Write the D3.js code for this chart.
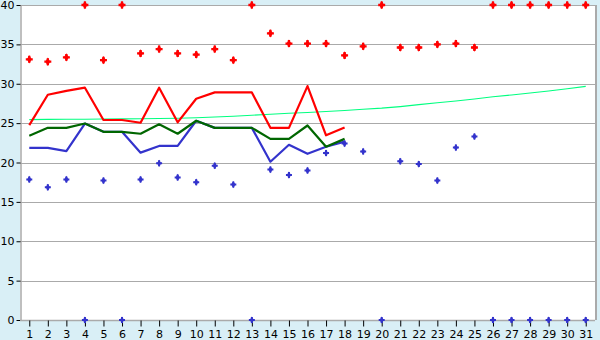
<!DOCTYPE html>
<html>
<meta charset="utf-8">
<style>
  body { margin: 0; background: #d9eff6; }
  svg { display: block; }
  .lbl { font-family: "DejaVu Sans", Verdana, sans-serif; font-size: 11px; fill: #000; }
</style>
<body>
<script src="https://cdn.jsdelivr.net/npm/d3@7"></script>
<div id="chart"></div>
<script>
// Days of the month on the x axis.
var days = d3.range(1, 32);
var yTicks = [0, 5, 10, 15, 20, 25, 30, 35, 40];

// Daily high points (red) and low points (blue); 40 / 0 mean off the scale.
var highs = [33.1, 32.8, 33.35, 40, 33.0, 40, 33.85, 34.4, 33.85, 33.7, 34.4, 33.0, 40, 36.4, 35.1, 35.1, 35.1, 33.6, 34.75, 40,
             34.6, 34.6, 35.0, 35.1, 34.6, 40, 40, 40, 40, 40, 40];
var lows = [17.85, 16.85, 17.85, 0, 17.7, 0, 17.85, 19.9, 18.1, 17.5, 19.6, 17.2, 0, 19.1, 18.4, 19.0, 21.2, 22.4, 21.4, 0,
            20.15, 19.8, 17.7, 21.9, 23.3, 0, 0, 0, 0, 0, 0];

// Running lines, first 18 days only.
var maxLine = [24.75, 28.6, 29.1, 29.5, 25.4, 25.4, 25.05, 29.5, 25.1, 28.1, 28.9, 28.9, 28.9, 24.4, 24.4, 29.7, 23.45, 24.45];
var avgLine = [23.4, 24.4, 24.4, 24.95, 23.9, 23.9, 23.65, 24.85, 23.65, 25.3, 24.4, 24.4, 24.4, 23.0, 23.0, 24.7, 22.0, 23.0];
var minLine = [21.85, 21.85, 21.45, 24.95, 23.9, 23.9, 21.25, 22.1, 22.1, 25.3, 24.4, 24.4, 24.4, 20.1, 22.25, 21.1, 22.0, 22.65];

// Trend curve over the whole month.
var trend = [25.45, 25.47, 25.49, 25.5, 25.52, 25.54, 25.56, 25.58, 25.62, 25.68, 25.78, 25.88, 26.0, 26.13, 26.25, 26.35,
             26.48, 26.6, 26.76, 26.9, 27.1, 27.35, 27.58, 27.8, 28.06, 28.34, 28.58, 28.83, 29.08, 29.36, 29.67];

var width = 600, height = 340;
// note: "top" is taken by window.top, so use m* names
var mLeft = 20, mRight = 595, mTop = 5, mBottom = 320;

var svg = d3.select("#chart").append("svg").attr("width", width).attr("height", height);

var x = d3.scalePoint().domain(days).range([mLeft, mRight]).padding(0.5);
var y = d3.scaleLinear().domain([0, 40]).range([mBottom, mTop]);

// plot background
svg.append("rect").attr("x", mLeft).attr("y", mTop).attr("width", mRight - mLeft).attr("height", mBottom - mTop)
    .attr("fill", "#fff");

// horizontal grid
svg.append("g").selectAll("line").data(yTicks.filter(function(d) { return d > 0; })).enter()
    .append("line")
    .attr("x1", mLeft).attr("x2", mRight)
    .attr("y1", function(d) { return Math.round(y(d)) + 0.5; })
    .attr("y2", function(d) { return Math.round(y(d)) + 0.5; })
    .attr("stroke", "#aaa").attr("stroke-width", 1.5).attr("shape-rendering", "crispEdges");

// right border
svg.append("line").attr("x1", mRight + 0.5).attr("x2", mRight + 0.5).attr("y1", mTop).attr("y2", mBottom)
    .attr("stroke", "#aaa").attr("stroke-width", 2).attr("shape-rendering", "crispEdges");

// y axis
var yAxis = svg.append("g").attr("transform", "translate(" + (mLeft + 0.5) + ",0)")
    .call(d3.axisLeft(y).tickValues(yTicks).tickSize(4).tickPadding(2).tickSizeOuter(0));
yAxis.select(".domain").attr("stroke", "#aaa").attr("stroke-width", 1.5);
yAxis.selectAll(".tick line").attr("stroke", "#000");
yAxis.selectAll("text").attr("class", "lbl").attr("font-family", null).attr("font-size", null);

// x axis
var xAxis = svg.append("g").attr("transform", "translate(0," + (mBottom + 0.5) + ")")
    .call(d3.axisBottom(x).tickSize(6).tickPadding(4).tickSizeOuter(0));
xAxis.select(".domain").attr("stroke", "#aaa").attr("stroke-width", 1.5).attr("d", "M" + mLeft + ",0H" + mRight);
xAxis.selectAll(".tick line").attr("stroke", "#000");
xAxis.selectAll("text").attr("class", "lbl").attr("font-family", null).attr("font-size", null);

var line = d3.line()
    .x(function(d, i) { return x(days[i]); })
    .y(function(d) { return y(d); });

function drawLine(data, color, w) {
    svg.append("path").datum(data)
        .attr("d", line)
        .attr("fill", "none")
        .attr("stroke", color)
        .attr("stroke-width", w)
        .attr("stroke-linejoin", "round");
}

drawLine(trend, "#00ff80", 1.1);
drawLine(maxLine, "#ff0000", 2.2);
drawLine(minLine, "#3333cc", 2.2);
drawLine(avgLine, "#006600", 2.2);

// chunky plus markers: a cross with a small diamond filling the centre
function drawMarkers(data, color, s) {
    var g = svg.append("g").selectAll("g").data(data).enter()
        .append("g")
        .attr("transform", function(d, i) { return "translate(" + x(days[i]) + "," + y(d) + ")"; })
        .attr("fill", color);
    g.append("path").attr("d", d3.symbol().type(d3.symbolCross).size(s));
    g.append("path").attr("d", d3.symbol().type(d3.symbolDiamond).size(s * 0.75));
}

drawMarkers(highs, "#ff0000", 27);
drawMarkers(lows, "#3333cc", 20);
</script>
</body>
</html>
